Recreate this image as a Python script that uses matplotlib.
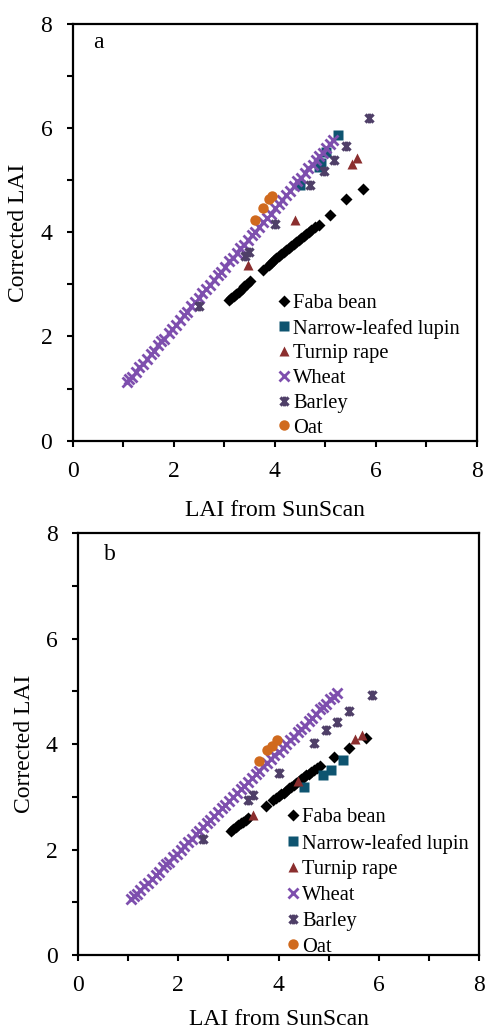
import numpy as np
import matplotlib
matplotlib.use('Agg')
import matplotlib.pyplot as plt
from matplotlib.path import Path
from matplotlib.lines import Line2D

plt.rcParams['font.family'] = ['Liberation Serif', 'DejaVu Serif']

# ---- panel a data ----
faba_a_x = [3.09, 3.14, 3.19, 3.24, 3.29, 3.35, 3.40, 3.46, 3.52, 3.77, 3.88, 3.93, 3.98, 4.03, 4.08,
            4.13, 4.18, 4.23, 4.28, 4.33, 4.38, 4.43, 4.48, 4.53, 4.58, 4.63, 4.68, 4.73, 4.80, 4.88,
            5.10, 5.41, 5.74]
faba_a_y = [2.70, 2.74, 2.78, 2.82, 2.86, 2.91, 2.96, 3.01, 3.06, 3.27, 3.37, 3.42, 3.46, 3.50, 3.54,
            3.58, 3.62, 3.66, 3.70, 3.74, 3.78, 3.82, 3.86, 3.90, 3.93, 3.97, 4.01, 4.05, 4.10, 4.15,
            4.34, 4.64, 4.83]
lupin_a_x = [4.50, 4.87, 4.92, 5.02, 5.26]
lupin_a_y = [4.91, 5.25, 5.33, 5.55, 5.87]
turnip_a_x = [3.48, 4.41, 5.53, 5.64]
turnip_a_y = [3.38, 4.23, 5.31, 5.43]
wheat_a_x = [1.08, 1.12, 1.18, 1.25, 1.32, 1.40, 1.47, 1.55, 1.62, 1.70, 1.76, 1.82, 1.90, 1.97, 2.05,
             2.12, 2.20, 2.27, 2.35, 2.42, 2.50, 2.57, 2.64, 2.72, 2.80, 2.87, 2.94, 3.02, 3.10, 3.18,
             3.25, 3.32, 3.40, 3.47, 3.55, 3.62, 3.70, 3.77, 3.85, 3.92, 4.00, 4.08, 4.15, 4.22, 4.30,
             4.38, 4.45, 4.52, 4.60, 4.67, 4.75, 4.82, 4.88, 4.95, 5.02, 5.10, 5.16]
wheat_a_y = [1.13, 1.18, 1.23, 1.32, 1.41, 1.48, 1.57, 1.67, 1.73, 1.83, 1.91, 1.96, 2.06, 2.15, 2.22,
             2.31, 2.41, 2.47, 2.58, 2.66, 2.74, 2.83, 2.92, 2.99, 3.09, 3.18, 3.24, 3.34, 3.44, 3.51,
             3.60, 3.69, 3.76, 3.85, 3.95, 4.01, 4.11, 4.20, 4.28, 4.36, 4.47, 4.54, 4.63, 4.72, 4.79,
             4.89, 4.98, 5.04, 5.14, 5.23, 5.30, 5.39, 5.47, 5.53, 5.62, 5.70, 5.78]
barley_a_x = [2.51, 3.42, 3.50, 4.01, 4.70, 4.97, 5.18, 5.41, 5.87]
barley_a_y = [2.59, 3.54, 3.63, 4.16, 4.90, 5.18, 5.39, 5.65, 6.20]
oat_a_x = [3.61, 3.78, 3.88, 3.95]
oat_a_y = [4.24, 4.47, 4.64, 4.69]

# ---- panel b data ----
faba_b_x = [3.05, 3.10, 3.15, 3.20, 3.25, 3.30, 3.35, 3.40, 3.76, 3.90, 3.95, 4.00, 4.05, 4.10, 4.15,
            4.20, 4.25, 4.30, 4.35, 4.40, 4.45, 4.50, 4.55, 4.60, 4.65, 4.70, 4.76, 4.83, 5.11, 5.41,
            5.74]
faba_b_y = [2.35, 2.39, 2.43, 2.46, 2.50, 2.53, 2.56, 2.60, 2.83, 2.94, 2.97, 3.01, 3.05, 3.08, 3.12,
            3.16, 3.19, 3.23, 3.27, 3.30, 3.34, 3.37, 3.41, 3.44, 3.47, 3.51, 3.55, 3.59, 3.76, 3.93,
            4.11]
lupin_b_x = [4.51, 4.89, 5.04, 5.28]
lupin_b_y = [3.19, 3.42, 3.51, 3.70]
turnip_b_x = [3.49, 4.39, 5.52, 5.66]
turnip_b_y = [2.66, 3.30, 4.10, 4.17]
wheat_b_x = [1.07, 1.12, 1.18, 1.25, 1.32, 1.40, 1.47, 1.55, 1.62, 1.70, 1.76, 1.82, 1.90, 1.97, 2.05,
             2.12, 2.20, 2.27, 2.35, 2.42, 2.50, 2.57, 2.64, 2.72, 2.80, 2.87, 2.94, 3.02, 3.10, 3.18,
             3.25, 3.32, 3.40, 3.47, 3.55, 3.62, 3.70, 3.77, 3.85, 3.92, 4.00, 4.08, 4.15, 4.22, 4.30,
             4.38, 4.45, 4.52, 4.60, 4.67, 4.75, 4.82, 4.88, 4.95, 5.02, 5.10, 5.16]
wheat_b_y = [1.06, 1.12, 1.16, 1.24, 1.30, 1.37, 1.45, 1.52, 1.58, 1.67, 1.72, 1.77, 1.86, 1.92, 1.99,
             2.07, 2.14, 2.20, 2.29, 2.35, 2.42, 2.50, 2.56, 2.63, 2.72, 2.78, 2.84, 2.93, 3.00, 3.07,
             3.15, 3.21, 3.28, 3.36, 3.43, 3.49, 3.58, 3.64, 3.71, 3.79, 3.86, 3.93, 4.01, 4.07, 4.14,
             4.23, 4.29, 4.35, 4.44, 4.50, 4.57, 4.66, 4.70, 4.77, 4.85, 4.90, 4.97]
barley_b_x = [2.50, 3.40, 3.50, 4.00, 4.71, 4.95, 5.16, 5.41, 5.87]
barley_b_y = [2.21, 2.95, 3.04, 3.45, 4.02, 4.27, 4.43, 4.62, 4.93]
oat_b_x = [3.61, 3.78, 3.88, 3.98]
oat_b_y = [3.69, 3.88, 3.97, 4.07]

labels = ['Faba bean', 'Narrow-leafed lupin', 'Turnip rape', 'Wheat', 'Barley', 'Oat']
colors = ['#000000', '#0E5470', '#8B2E2E', '#7E4FAE', '#4F3F68', '#D06A1E']

# x with a vertical bar, like the spreadsheet "star" marker
star = Path([(-1, -1), (1, 1), (-1, 1), (1, -1), (0, -1.2), (0, 1.2)],
            [Path.MOVETO, Path.LINETO, Path.MOVETO, Path.LINETO, Path.MOVETO, Path.LINETO])

styles = [dict(marker='D', ms=6.3, mec='none'),
          dict(marker='s', ms=7.5, mec='none'),
          dict(marker='^', ms=7.5, mec='none'),
          dict(marker='x', ms=7, mew=2.0),
          dict(marker=star, ms=7, mew=2.3),
          dict(marker='o', ms=7.5, mec='none')]


def draw_panel(ax, series, tag, tag_xy, leg_xy, spacing, xpad):
    for (xs, ys), lab, c, st in zip(series, labels, colors, styles):
        ax.plot(xs, ys, linestyle='none', color=c, label=lab, **st)
    ax.set_xlim(0, 8)
    ax.set_ylim(0, 8)
    ax.set_xticks([0, 2, 4, 6, 8])
    ax.set_yticks([0, 2, 4, 6, 8])
    ax.set_xticks([1, 3, 5, 7], minor=True)
    ax.set_yticks([1, 3, 5, 7], minor=True)
    ax.tick_params(which='both', direction='out', length=4.5, width=1.5, labelsize=17, pad=10)
    for s in ax.spines.values():
        s.set_linewidth(1.6)
    ax.set_xlabel('LAI from SunScan', fontsize=17, labelpad=xpad)
    ax.set_ylabel('Corrected LAI', fontsize=17, labelpad=8)
    ax.text(tag_xy[0], tag_xy[1], tag, fontsize=17, ha='center', va='center')
    handles = [Line2D([], [], linestyle='none', color=c, **st) for c, st in zip(colors, styles)]
    ax.legend(handles, labels, loc='upper left', bbox_to_anchor=leg_xy, frameon=False,
              fontsize=14.8, handlelength=0.5, handletextpad=0.2, labelspacing=spacing,
              borderpad=0, borderaxespad=0)


fig = plt.figure(figsize=(4.86, 10.33), dpi=100)
ax1 = fig.add_axes([0.1492, 0.5734, 0.8317, 0.4034])
ax2 = fig.add_axes([0.1599, 0.0755, 0.8263, 0.4082])

draw_panel(ax1, [(faba_a_x, faba_a_y), (lupin_a_x, lupin_a_y), (turnip_a_x, turnip_a_y),
                 (wheat_a_x, wheat_a_y), (barley_a_x, barley_a_y), (oat_a_x, oat_a_y)],
           'a', (0.51, 7.64), (0.510, 0.352), 0.26, 13)
draw_panel(ax2, [(faba_b_x, faba_b_y), (lupin_b_x, lupin_b_y), (turnip_b_x, turnip_b_y),
                 (wheat_b_x, wheat_b_y), (barley_b_x, barley_b_y), (oat_b_x, oat_b_y)],
           'b', (0.64, 7.59), (0.523, 0.349), 0.31, 9)

plt.savefig('out.png', dpi=100)
